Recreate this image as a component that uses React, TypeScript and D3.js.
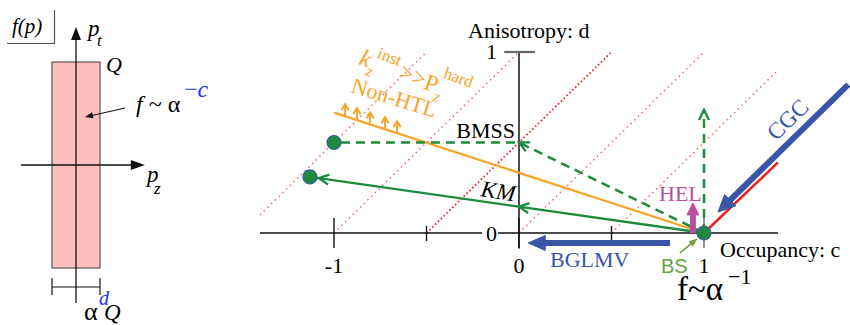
import React from 'react';
import * as d3 from 'd3';

const W = 850;
const H = 325;

// ---------- main diagram: occupancy c (x) vs anisotropy d (y)
const xTicks = [-1, -0.5, 0, 0.5, 1];
const xTickLong = [true, false, true, false, true];
const xTickLabels = ['-1', '', '0', '', '1'];
const yTicks = [0, 1];
const yTickLabels = ['0', '1'];
const axisCRange = [-1.4, 1.4];
const axisDRange = [-0.085, 1];

// red dotted iso-lines c - d = k
const isoK = [-1.5, -1, -0.5, 0, 0.5];
const isoCStart = [-1.4, -1, -0.5, 0, 0.5];
const isoCEnd = [-0.5, 0, 0.5, 1, 1.4];
const isoDense = [false, false, true, false, false];

// fixed points
const pointNames = ['BMSS', 'KM', 'origin'];
const pointC = [-1, -1.13, 1];
const pointD = [0.5, 0.31, 0];

// flows
const bmssPathC = [1, 0, -1];
const bmssPathD = [0, 0.5, 0.5];
const kmPathC = [1, -1.13];
const kmPathD = [0, 0.31];
const vertC = [1, 1];
const vertD = [0, 0.68];
const orangeC = [1, -1];
const orangeD = [0, 0.665];
const nonHtlArrowC = [-0.94, -0.876, -0.805, -0.724, -0.659];
const cgcRedC = [1, 1.4];
const cgcRedD = [0, 0.39];
const cgcBlueC = [1.78, 1.076];
const cgcBlueD = [0.82, 0.116];
const bglmvC = [0.816, 0.05];
const bglmvD = [-0.055, -0.055];
const helC = [0.94, 0.94];
const helD = [0, 0.166];
const bsC = [0.87, 0.962];
const bsD = [-0.11, -0.033];

// ---------- left panel (schematic p_z, p_t)
const boxPz = [-1, 1];
const boxPt = [-1, 1];
const leftAxisPz = [-2.29, 2.87];
const leftAxisPt = [-1.34, 1.34];

const C_GREEN = '#1d8a3d';
const C_ORANGE = '#f6a528';
const C_BLUE = '#3a54a6';
const C_MAG = '#b94fa1';
const C_BS = '#6aa23f';
const C_RED = '#e8211d';
const SERIF = '"Liberation Serif", "Times New Roman", "DejaVu Serif", serif';

type P = [number, number];

function chevron(tip: P, from: P, len: number, half: number): string {
  const dx = tip[0] - from[0];
  const dy = tip[1] - from[1];
  const L = Math.hypot(dx, dy) || 1;
  const ux = dx / L, uy = dy / L;
  const bx = tip[0] - ux * len, by = tip[1] - uy * len;
  const nx = -uy, ny = ux;
  return `M${bx + nx * half},${by + ny * half}L${tip[0]},${tip[1]}L${bx - nx * half},${by - ny * half}`;
}
function head(tip: P, from: P, len: number, half: number): string {
  return chevron(tip, from, len, half) + 'Z';
}

export default function App() {
  const x = d3.scaleLinear().domain([-1, 1]).range([334, 704]);
  const y = d3.scaleLinear().domain([0, 1]).range([233, 52]);
  const lx = d3.scaleLinear().domain([-1, 1]).range([52, 100]);
  const ly = d3.scaleLinear().domain([-1, 1]).range([268, 62]);
  const line = d3.line<P>().x(d => d[0]).y(d => d[1]);
  const pt = (c: number, d: number): P => [x(c), y(d)];

  const origin = pt(pointC[2], pointD[2]);
  const bmssPts = bmssPathC.map((c, i) => pt(c, bmssPathD[i]));
  const kmPts = kmPathC.map((c, i) => pt(c, kmPathD[i]));
  const vertPts = vertC.map((c, i) => pt(c, vertD[i]));
  const orangePts = orangeC.map((c, i) => pt(c, orangeD[i]));
  const orangeAt = (c: number) => {
    const t = (c - orangeC[0]) / (orangeC[1] - orangeC[0]);
    return orangeD[0] + t * (orangeD[1] - orangeD[0]);
  };
  const kmAt0: P = (() => {
    const t = (0 - kmPathC[0]) / (kmPathC[1] - kmPathC[0]);
    return pt(0, kmPathD[0] + t * (kmPathD[1] - kmPathD[0]));
  })();
  const kmEnd = kmPts[1];
  const kmDir = [kmEnd[0] - origin[0], kmEnd[1] - origin[1]];
  const kmLen = Math.hypot(kmDir[0], kmDir[1]);
  const kmTip: P = [kmEnd[0] - (kmDir[0] / kmLen) * 9, kmEnd[1] - (kmDir[1] / kmLen) * 9];

  const thickArrow = (cs: number[], ds: number[], color: string, w: number, hl: number, hh: number) => {
    const a = pt(cs[0], ds[0]);
    const b = pt(cs[1], ds[1]);
    const dx = b[0] - a[0], dy = b[1] - a[1];
    const L = Math.hypot(dx, dy);
    const shaftEnd: P = [b[0] - (dx / L) * (hl - 2), b[1] - (dy / L) * (hl - 2)];
    return (
      <g>
        <path d={line([a, shaftEnd]) || ''} stroke={color} strokeWidth={w} fill="none" />
        <path d={head(b, a, hl, hh)} fill={color} stroke={color} strokeWidth={1} strokeLinejoin="miter" />
      </g>
    );
  };

  return (
    <svg width={W} height={H} style={{ position: 'absolute', left: 0, top: 0, background: '#fff' }}
      fontFamily={SERIF}>
      <rect x={0} y={0} width={W} height={H} fill="#fff" />

      {/* ================= LEFT PANEL ================= */}
      <g>
        <path d={`M7,43.5H54.5V10`} fill="none" stroke="#555" strokeWidth={1.2} />
        <text x={12} y={33} fontSize={21} fontStyle="italic">f(p)</text>
        <rect x={lx(boxPz[0])} y={ly(boxPt[1])} width={lx(boxPz[1]) - lx(boxPz[0])}
          height={ly(boxPt[0]) - ly(boxPt[1])} fill="#ffbebe" stroke="#555" strokeWidth={1.2} />
        <path d={line([[lx(0), ly(leftAxisPt[0])], [lx(0), ly(leftAxisPt[1]) + 10]]) || ''} stroke="#111" strokeWidth={1.3} />
        <path d={head([lx(0), ly(leftAxisPt[1])], [lx(0), ly(0)], 13, 5)} fill="#111" />
        <path d={line([[lx(leftAxisPz[0]), ly(0)], [lx(leftAxisPz[1]) - 10, ly(0)]]) || ''} stroke="#111" strokeWidth={1.3} />
        <path d={head([lx(leftAxisPz[1]), ly(0)], [lx(0), ly(0)], 14, 5)} fill="#111" />
        <path d={`M${lx(-1)},278V295M${lx(1)},278V295M${lx(-1)},287H${lx(1)}`} stroke="#111" strokeWidth={1.2} fill="none" />
        <text x={88} y={36} fontSize={23} fontStyle="italic">p</text>
        <text x={97} y={46} fontSize={17} fontStyle="italic">t</text>
        <text x={106} y={72} fontSize={22} fontStyle="italic">Q</text>
        <text x={147} y={182} fontSize={23} fontStyle="italic">p</text>
        <text x={154} y={194} fontSize={17} fontStyle="italic">z</text>
        <text x={136} y={112} fontSize={24}>
          <tspan fontStyle="italic">f</tspan><tspan> ~ α</tspan>
        </text>
        <text x={184} y={97} fontSize={24} fill="#2233ee">−<tspan fontStyle="italic">c</tspan></text>
        <path d={line([[125, 108], [92, 115.5]]) || ''} stroke="#111" strokeWidth={1.1} />
        <path d={head([85, 117], [125, 108], 8, 3)} fill="#111" />
        <text x={84} y={320} fontSize={26}>α</text>
        <text x={99} y={305} fontSize={20} fontStyle="italic" fill="#2233ee">d</text>
        <text x={104} y={320} fontSize={23} fontStyle="italic">Q</text>
      </g>

      {/* ================= MAIN DIAGRAM ================= */}
      {isoK.map((k, i) => (
        <path key={'iso' + i}
          d={line([pt(isoCStart[i], isoCStart[i] - k), pt(isoCEnd[i], isoCEnd[i] - k)]) || ''}
          stroke={isoDense[i] ? '#e4252b' : '#ef5f62'} strokeWidth={isoDense[i] ? 1.8 : 1.5}
          strokeDasharray={isoDense[i] ? '1.6 2.4' : '1.4 3.8'} fill="none" />
      ))}

      <path d={line([pt(axisCRange[0], 0), pt(axisCRange[1], 0)]) || ''} stroke="#111" strokeWidth={1.5} />
      <path d={line([pt(0, axisDRange[0]), pt(0, axisDRange[1])]) || ''} stroke="#111" strokeWidth={1.5} />
      <path d={line([pt(-0.08, 1), pt(0.086, 1)]) || ''} stroke="#666" strokeWidth={2.2} />
      {xTicks.map((t, i) => (
        <path key={'xt' + i}
          d={line([[x(t), y(0) - (xTickLong[i] ? 15 : 7)], [x(t), y(0) + (xTickLong[i] ? 15 : 8)]]) || ''}
          stroke={t === 1 ? '#666' : '#111'} strokeWidth={1.4} />
      ))}
      {xTicks.map((t, i) => xTickLabels[i] ? (
        <text key={'xl' + i} x={x(t)} y={273} fontSize={22} textAnchor="middle">{xTickLabels[i]}</text>
      ) : null)}
      {yTicks.map((t, i) => (
        <g key={'yl' + i}>
          {t === 0 && <rect x={x(0) - 37} y={y(0) - 7} width={16} height={12} fill="#fff" />}
          <text x={x(0) - 22} y={t === 0 ? y(0) + 8 : y(t) + 7} fontSize={22} textAnchor="end">{yTickLabels[i]}</text>
        </g>
      ))}
      <text x={468} y={38} fontSize={22}>Anisotropy: d</text>
      <text x={720} y={257} fontSize={22}>Occupancy: c</text>

      {/* orange non-HTL line */}
      <path d={line(orangePts) || ''} stroke={C_ORANGE} strokeWidth={2.3} fill="none" />
      {nonHtlArrowC.map((c, i) => {
        const base = pt(c, orangeAt(c));
        const tip: P = [base[0], base[1] - 12];
        return (
          <g key={'nh' + i}>
            <path d={line([base, [tip[0], tip[1] + 1]]) || ''} stroke={C_ORANGE} strokeWidth={2} />
            <path d={chevron(tip, base, 6, 3.6)} stroke={C_ORANGE} strokeWidth={2} fill="none" />
          </g>
        );
      })}
      <g transform="translate(358,64) rotate(20)" fill={C_ORANGE}>
        <text x={0} y={0} fontSize={24} fontStyle="italic">k</text>
        <text x={10} y={8} fontSize={16} fontStyle="italic">z</text>
        <text x={15} y={-12} fontSize={17}>inst</text>
        <text x={42} y={0} fontSize={24}>&gt;&gt;</text>
        <text x={69} y={1} fontSize={24}>P</text>
        <text x={82} y={9} fontSize={16} fontStyle="italic">z</text>
        <text x={84} y={-16} fontSize={17}>hard</text>
      </g>
      <text transform="translate(350,92) rotate(17)" fontSize={22} fill={C_ORANGE}>Non-HTL</text>

      {/* green flows */}
      <path d={line(bmssPts) || ''} stroke={C_GREEN} strokeWidth={2.5} strokeDasharray="9 6" fill="none" />
      <path d={chevron(bmssPts[1], bmssPts[0], 10, 5)} stroke={C_GREEN} strokeWidth={2.3} fill="none" />
      <path d={line(kmPts) || ''} stroke={C_GREEN} strokeWidth={2.3} fill="none" />
      <path d={chevron(kmAt0, origin, 10, 5)} stroke={C_GREEN} strokeWidth={2.3} fill="none" />
      <path d={chevron(kmTip, origin, 10, 5)} stroke={C_GREEN} strokeWidth={2.3} fill="none" />
      <path d={line(vertPts) || ''} stroke={C_GREEN} strokeWidth={2.5} strokeDasharray="9 6" fill="none" />
      <path d={chevron(vertPts[1], vertPts[0], 10, 5)} stroke={C_GREEN} strokeWidth={2.3} fill="none" />

      {/* CGC */}
      <path d={line(cgcRedC.map((c, i) => pt(c, cgcRedD[i]))) || ''} stroke={C_RED} strokeWidth={2.5} />
      {thickArrow(cgcBlueC, cgcBlueD, C_BLUE, 6, 17, 8)}
      <text transform="translate(793,125) rotate(-44)" fontSize={23} fill={C_BLUE} textAnchor="middle">CGC</text>

      {/* BGLMV */}
      {thickArrow(bglmvC, bglmvD, C_BLUE, 6, 17, 7.5)}
      <text x={550} y={267} fontSize={22} fill={C_BLUE}>BGLMV</text>

      {/* HEL */}
      {thickArrow(helC, helD, C_MAG, 6, 12, 6)}
      <text x={659} y={201} fontSize={22} fill={C_MAG}>HEL</text>

      {/* BS */}
      <path d={line(bsC.map((c, i) => pt(c, bsD[i]))) || ''} stroke={C_BS} strokeWidth={1.6} />
      <path d={head(pt(bsC[1], bsD[1]), pt(bsC[0], bsD[0]), 8, 3.5)} fill={C_BS} />
      <text x={661} y={273} fontSize={20} fill={C_BS} fontFamily='"Liberation Sans", Arial, sans-serif'>BS</text>

      {/* points */}
      {pointNames.map((n, i) => (
        <circle key={'p' + n} cx={x(pointC[i])} cy={y(pointD[i])} r={7} fill={C_GREEN} stroke="#3b5aa8" strokeWidth={1.2} />
      ))}
      <text x={515} y={138} fontSize={22} textAnchor="end">BMSS</text>
      <text transform="translate(480,196) rotate(9)" fontSize={23} fontStyle="italic">KM</text>

      {/* f ~ alpha^-1 */}
      <text x={677} y={300} fontSize={33}>f~α</text>
      <text x={728} y={284} fontSize={22}>−1</text>
    </svg>
  );
}
